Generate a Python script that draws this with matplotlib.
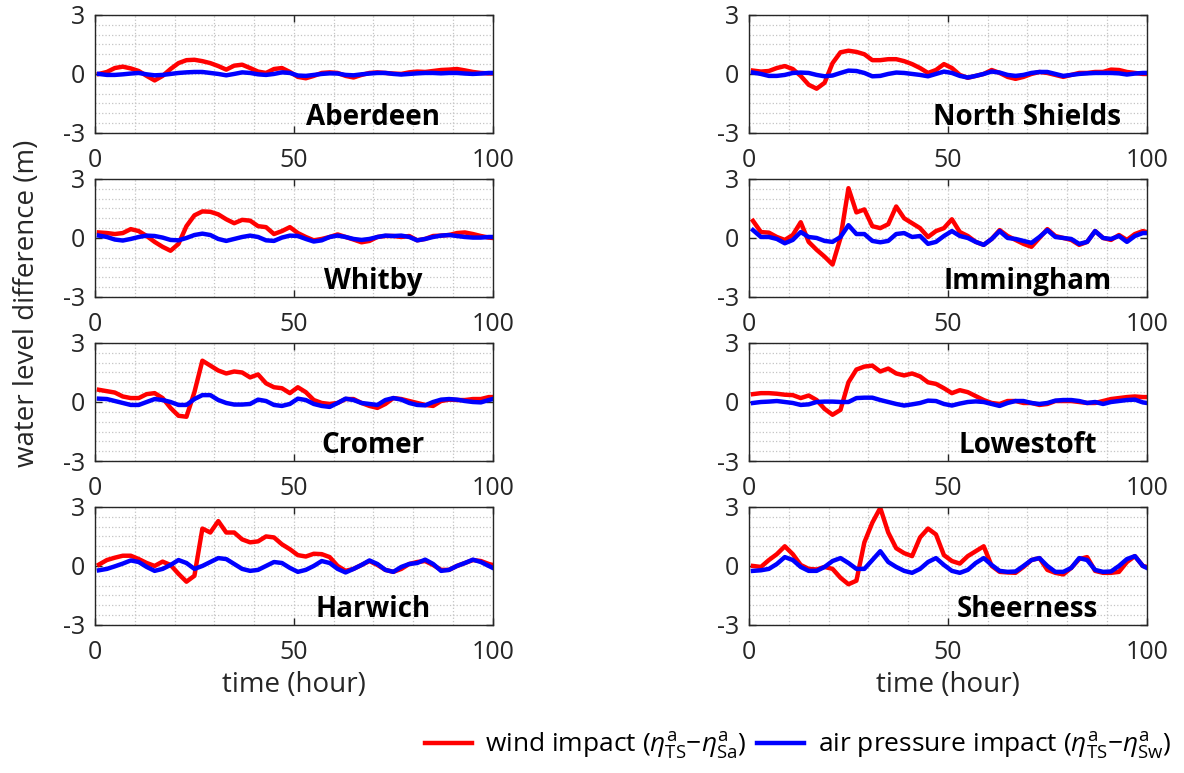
import numpy as np
import matplotlib
matplotlib.use("Agg")
import matplotlib.pyplot as plt
from matplotlib.ticker import MultipleLocator

plt.rcParams['font.family'] = ['Open Sans', 'DejaVu Sans']
plt.rcParams['mathtext.fontset'] = 'custom'
plt.rcParams['mathtext.rm'] = 'Open Sans'
plt.rcParams['mathtext.it'] = 'Open Sans:italic'
plt.rcParams['axes.unicode_minus'] = False

hours = [1, 3, 5, 7, 9, 11, 13, 15, 17, 19, 21, 23, 25, 27, 29, 31, 33, 35, 37, 39,
         41, 43, 45, 47, 49, 51, 53, 55, 57, 59, 61, 63, 65, 67, 69, 71, 73, 75, 77, 79,
         81, 83, 85, 87, 89, 91, 93, 95, 97, 99, 100]

stations = ["Aberdeen", "North Shields", "Whitby", "Immingham",
            "Cromer", "Lowestoft", "Harwich", "Sheerness"]

# wind impact (red) and air pressure impact (blue), metres
wind_aberdeen = [0.0, 0.1, 0.3, 0.37, 0.28, 0.15, -0.1, -0.33, -0.1, 0.25, 0.55, 0.7, 0.72, 0.65, 0.55, 0.4, 0.22, 0.42, 0.47, 0.3,
                 0.12, 0.05, 0.25, 0.3, 0.1, -0.15, -0.22, -0.1, 0.05, 0.08, 0.05, -0.1, -0.18, -0.05, 0.05, 0.08, 0.05, 0.02, 0.0, 0.08,
                 0.12, 0.1, 0.15, 0.2, 0.22, 0.25, 0.18, 0.1, 0.05, 0.03, 0.03]
pres_aberdeen = [0.0, -0.05, -0.05, -0.02, 0.02, 0.05, -0.02, -0.07, -0.05, 0.0, 0.05, 0.08, 0.1, 0.1, 0.05, 0.0, -0.07, 0.0, 0.08, 0.05,
                 -0.02, -0.05, 0.0, 0.08, 0.05, -0.08, -0.1, -0.05, 0.0, 0.03, 0.02, -0.05, -0.07, -0.02, 0.02, 0.05, 0.05, 0.0, -0.03, 0.0,
                 0.03, 0.05, 0.05, 0.03, 0.05, 0.05, 0.02, 0.0, 0.02, 0.05, 0.05]

wind_nshields = [0.17, 0.12, 0.15, 0.3, 0.4, 0.25, -0.1, -0.55, -0.75, -0.45, 0.55, 1.1, 1.18, 1.12, 1.0, 0.7, 0.7, 0.75, 0.75, 0.65,
                 0.5, 0.3, 0.05, 0.2, 0.5, 0.3, -0.05, -0.2, -0.1, 0.0, 0.2, 0.05, -0.15, -0.25, -0.15, 0.0, 0.1, 0.05, -0.05, -0.15,
                 -0.05, 0.05, 0.05, 0.1, 0.1, 0.22, 0.2, 0.1, 0.05, 0.0, 0.0]
pres_nshields = [0.07, 0.0, -0.1, -0.1, -0.05, 0.05, 0.07, 0.05, -0.05, -0.12, -0.08, 0.05, 0.17, 0.15, 0.05, -0.12, -0.1, 0.0, 0.07, 0.05,
                 0.0, -0.05, -0.12, 0.0, 0.12, 0.05, -0.1, -0.18, -0.1, 0.0, 0.12, 0.07, -0.05, -0.1, -0.05, 0.05, 0.1, 0.1, 0.0, -0.1,
                 -0.05, 0.0, 0.03, 0.05, 0.05, 0.05, 0.03, -0.03, 0.02, 0.05, 0.05]

wind_whitby = [0.28, 0.25, 0.2, 0.25, 0.45, 0.35, 0.1, -0.2, -0.45, -0.65, -0.3, 0.6, 1.15, 1.35, 1.33, 1.2, 0.95, 0.75, 0.92, 0.88,
               0.6, 0.55, 0.2, 0.35, 0.55, 0.25, 0.05, -0.12, -0.05, 0.05, 0.18, 0.05, -0.08, -0.22, -0.15, 0.05, 0.1, 0.1, 0.05, 0.1,
               -0.12, -0.05, 0.1, 0.12, 0.15, 0.25, 0.28, 0.2, 0.1, 0.02, 0.0]
pres_whitby = [0.12, 0.05, -0.08, -0.13, -0.05, 0.05, 0.12, 0.1, 0.02, -0.1, -0.12, 0.0, 0.15, 0.22, 0.15, -0.05, -0.15, -0.05, 0.05, 0.12,
               0.05, -0.12, -0.15, 0.02, 0.12, 0.1, -0.05, -0.18, -0.12, 0.05, 0.12, 0.05, -0.05, -0.1, -0.05, 0.05, 0.12, 0.1, 0.12, 0.05,
               -0.12, -0.05, 0.05, 0.12, 0.15, 0.1, 0.05, 0.02, 0.02, 0.05, 0.05]

wind_immingham = [0.87, 0.3, 0.27, 0.05, -0.1, 0.15, 0.8, -0.2, -0.6, -0.95, -1.35, 0.0, 2.53, 1.3, 1.45, 0.6, 0.5, 0.7, 1.6, 1.0,
                  0.75, 0.5, 0.05, 0.35, 0.5, 0.95, 0.3, 0.1, -0.2, -0.35, -0.05, 0.4, 0.1, -0.1, -0.3, -0.45, 0.0, 0.45, 0.1, 0.0,
                  -0.1, -0.35, -0.2, 0.35, 0.0, -0.1, 0.15, -0.1, 0.2, 0.35, 0.3]
pres_immingham = [0.4, 0.05, 0.05, -0.05, -0.27, -0.1, 0.3, 0.05, 0.0, -0.15, -0.2, 0.05, 0.65, 0.2, 0.2, -0.15, -0.22, -0.15, 0.2, 0.25,
                  0.05, 0.1, -0.3, -0.2, 0.1, 0.35, 0.1, 0.0, -0.2, -0.35, -0.05, 0.35, 0.0, -0.05, -0.15, -0.25, 0.05, 0.4, 0.05, 0.0,
                  -0.05, -0.3, -0.2, 0.35, 0.0, -0.05, 0.1, -0.2, 0.1, 0.25, 0.25]

wind_cromer = [0.62, 0.55, 0.48, 0.28, 0.2, 0.2, 0.4, 0.45, 0.2, -0.3, -0.7, -0.75, 0.5, 2.1, 1.85, 1.6, 1.45, 1.55, 1.5, 1.25,
               1.4, 0.95, 0.75, 0.7, 0.45, 0.75, 0.5, 0.1, -0.05, -0.1, -0.05, 0.15, 0.15, -0.05, -0.2, -0.3, -0.1, 0.2, 0.15, 0.05,
               -0.05, -0.15, -0.2, 0.05, 0.12, 0.1, 0.1, 0.15, 0.15, 0.25, 0.25]
pres_cromer = [0.17, 0.15, 0.05, -0.05, -0.15, -0.15, 0.0, 0.15, 0.1, 0.0, -0.15, -0.15, 0.15, 0.35, 0.35, 0.1, -0.05, -0.13, -0.13, -0.1,
               0.12, 0.05, -0.15, -0.2, -0.1, 0.17, 0.1, -0.1, -0.2, -0.25, -0.05, 0.17, 0.1, -0.05, -0.1, -0.15, 0.1, 0.2, 0.12, -0.05,
               -0.15, -0.17, 0.0, 0.12, 0.15, 0.12, 0.05, 0.0, -0.02, 0.1, 0.15]

wind_lowestoft = [0.4, 0.45, 0.45, 0.42, 0.37, 0.35, 0.2, 0.33, 0.1, -0.35, -0.65, -0.4, 1.0, 1.65, 1.8, 1.85, 1.55, 1.7, 1.45, 1.35,
                  1.45, 1.3, 1.0, 0.92, 0.7, 0.45, 0.6, 0.5, 0.3, 0.1, -0.05, -0.1, 0.05, 0.05, -0.05, -0.05, -0.15, -0.1, 0.05, 0.05,
                  0.05, 0.0, -0.05, -0.05, 0.05, 0.15, 0.2, 0.25, 0.28, 0.25, 0.25]
pres_lowestoft = [-0.05, 0.0, 0.02, 0.05, 0.0, -0.05, -0.15, -0.12, 0.0, 0.02, 0.02, 0.0, 0.0, 0.2, 0.22, 0.22, 0.1, 0.0, -0.1, -0.18,
                  -0.12, -0.05, 0.07, 0.05, -0.1, -0.18, -0.08, 0.0, 0.03, 0.0, -0.1, -0.2, -0.05, 0.05, 0.05, -0.05, -0.1, -0.05, 0.07, 0.1,
                  0.1, 0.05, -0.05, 0.0, -0.1, 0.0, 0.05, 0.1, 0.12, -0.02, -0.05]

wind_harwich = [0.07, 0.3, 0.42, 0.52, 0.52, 0.35, 0.15, 0.0, 0.22, 0.05, -0.4, -0.8, -0.5, 1.9, 1.7, 2.28, 1.7, 1.7, 1.35, 1.2,
                1.25, 1.5, 1.45, 1.1, 0.85, 0.55, 0.48, 0.62, 0.6, 0.45, 0.0, -0.25, -0.15, 0.05, 0.25, 0.05, -0.2, -0.3, -0.15, 0.1,
                0.2, 0.25, 0.05, -0.2, -0.2, 0.0, 0.15, 0.3, 0.25, 0.1, 0.05]
pres_harwich = [-0.22, -0.15, -0.02, 0.12, 0.28, 0.2, -0.05, -0.25, -0.15, 0.05, 0.3, 0.15, -0.15, 0.0, 0.2, 0.4, 0.35, 0.1, -0.15, -0.25,
                -0.2, 0.0, 0.2, 0.15, -0.1, -0.3, -0.2, 0.0, 0.25, 0.15, -0.15, -0.33, -0.15, 0.05, 0.28, 0.1, -0.2, -0.3, -0.05, 0.1,
                0.15, 0.32, 0.1, -0.25, -0.2, 0.0, 0.15, 0.32, 0.2, 0.0, -0.1]

wind_sheerness = [0.0, -0.05, 0.3, 0.6, 1.0, 0.6, 0.05, -0.15, -0.18, -0.05, -0.15, -0.6, -0.93, -0.75, 1.2, 2.2, 2.95, 1.7, 0.9, 0.65,
                  0.5, 1.45, 1.9, 1.6, 0.55, 0.25, 0.12, 0.5, 0.75, 1.0, 0.0, -0.3, -0.33, -0.35, -0.05, 0.3, 0.4, -0.2, -0.35, -0.43,
                  -0.1, 0.35, 0.45, -0.25, -0.35, -0.35, -0.3, 0.2, 0.5, 0.0, -0.05]
pres_sheerness = [-0.25, -0.22, -0.15, 0.1, 0.45, 0.3, -0.05, -0.25, -0.25, -0.05, 0.25, 0.4, 0.15, -0.15, -0.15, 0.3, 0.75, 0.2, -0.05, -0.25,
                  -0.35, -0.15, 0.2, 0.4, 0.05, -0.25, -0.35, -0.2, 0.15, 0.4, 0.05, -0.25, -0.3, -0.28, 0.0, 0.3, 0.4, 0.0, -0.3, -0.3,
                  -0.1, 0.4, 0.3, -0.2, -0.3, -0.28, 0.0, 0.35, 0.5, 0.0, -0.1]

wind = [wind_aberdeen, wind_nshields, wind_whitby, wind_immingham,
        wind_cromer, wind_lowestoft, wind_harwich, wind_sheerness]
pressure = [pres_aberdeen, pres_nshields, pres_whitby, pres_immingham,
            pres_cromer, pres_lowestoft, pres_harwich, pres_sheerness]

fig = plt.figure(figsize=(11.84, 7.73), dpi=100)

# panel placement (figure fractions), two columns x four rows
col_left = [0.0802, 0.6326]
row_bottom = [0.828, 0.6158, 0.4036, 0.1915]
width, height = 0.336, 0.1527

for k, name in enumerate(stations):
    r, c = divmod(k, 2)
    ax = fig.add_axes([col_left[c], row_bottom[r], width, height])
    l1, = ax.plot(hours, wind[k], color=(1, 0, 0), lw=3.2, solid_joinstyle='round')
    l2, = ax.plot(hours, pressure[k], color=(0, 0, 1), lw=3.2, solid_joinstyle='round')
    ax.set_xlim(0, 100)
    ax.set_ylim(-3, 3)
    ax.set_xticks([0, 50, 100])
    ax.set_yticks([-3, 0, 3])
    ax.xaxis.set_minor_locator(MultipleLocator(10))
    ax.yaxis.set_minor_locator(MultipleLocator(0.5))
    ax.grid(True, which='both', color='#c4c4c4', linestyle=':', linewidth=0.9)
    ax.set_axisbelow(True)
    ax.tick_params(which='major', direction='in', length=5, width=1, top=True, right=True,
                   labelsize=18, colors='#262626', labelcolor='#262626')
    ax.tick_params(axis='x', which='major', pad=11)
    ax.tick_params(axis='y', which='major', pad=7)
    ax.tick_params(which='minor', length=0)
    for s in ax.spines.values():
        s.set_color('#262626')
        s.set_linewidth(1.0)
    ax.text(0.70, 0.065, name, transform=ax.transAxes, ha='center', va='baseline',
            fontsize=20, fontweight='bold', color='black')
    if r == 3:
        ax.set_xlabel('time (hour)', fontsize=20, color='#262626', labelpad=4)

fig.text(0.023, 0.607, 'water level difference (m)', rotation=90, ha='center', va='center',
         fontsize=20, color='#262626')

fig.legend([l1, l2],
           [r'wind impact ($\eta^{\rm a}_{\rm TS}$$-$$\eta^{\rm a}_{\rm Sa}$)',
            r'air pressure impact ($\eta^{\rm a}_{\rm TS}$$-$$\eta^{\rm a}_{\rm Sw}$)'],
           loc='center right', bbox_to_anchor=(1.0, 0.035), ncol=2, frameon=False,
           fontsize=19, handlelength=1.8, handletextpad=0.5, columnspacing=0.4,
           borderaxespad=0.1)

fig.savefig('out.png', dpi=100)
